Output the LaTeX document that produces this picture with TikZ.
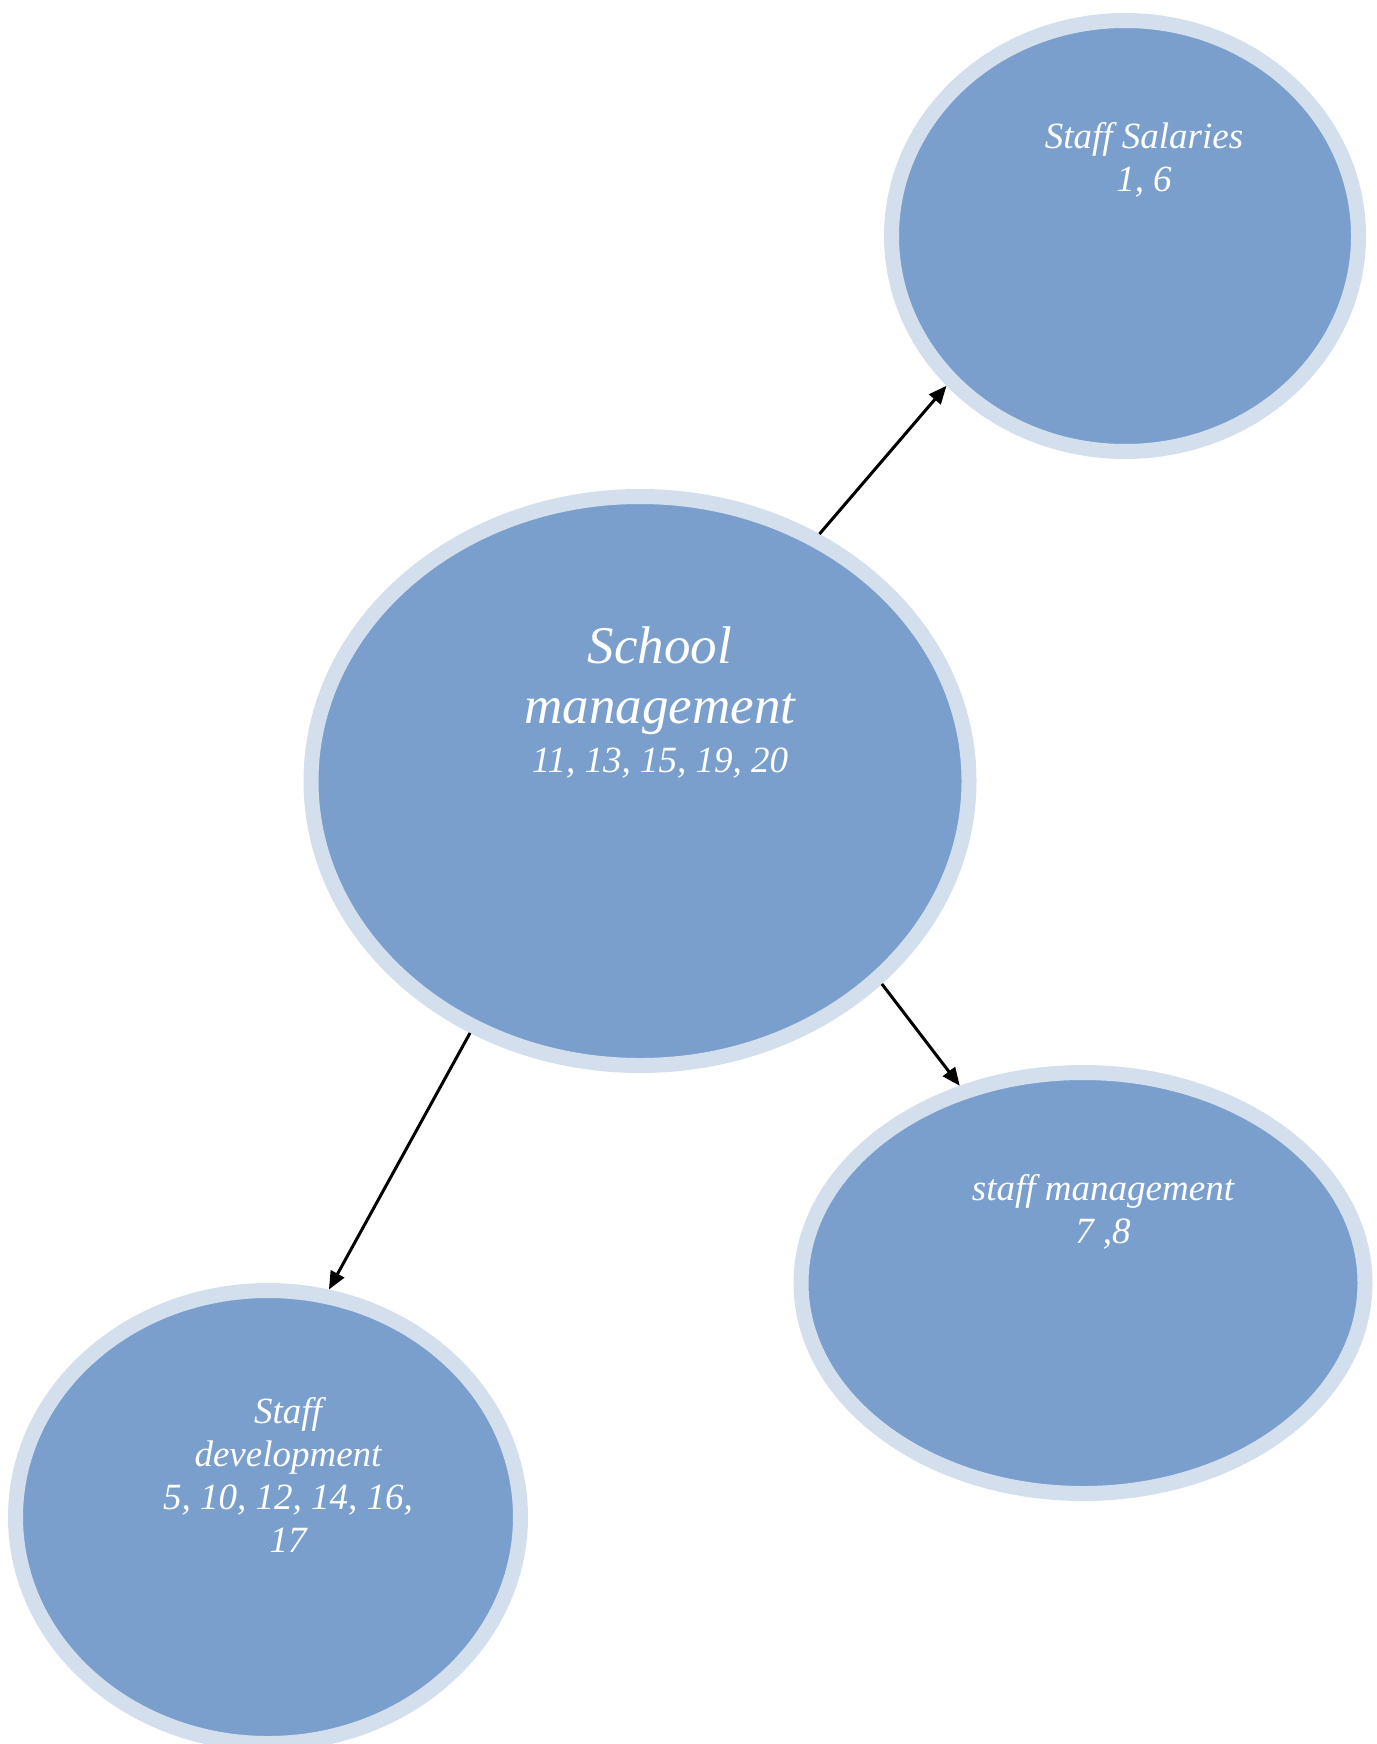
\documentclass[tikz,border=0pt]{standalone}
\usepackage{fontspec}
\setmainfont{Liberation Serif}
\usetikzlibrary{shapes.geometric,arrows.meta,positioning}

\definecolor{bubblefill}{RGB}{123,159,204}
\definecolor{bubblering}{RGB}{212,223,238}

\begin{document}
\begin{tikzpicture}[
    x=1pt, y=-1pt,
    bubble/.style={ellipse, draw=bubblering, fill=bubblefill, line width=15pt},
    caption/.style={text=white, font=\itshape\fontsize{37}{43}\selectfont, align=center, anchor=base, inner sep=0pt},
    link/.style={-{Triangle[length=18pt,width=15pt]}, line width=3pt, black}
]
\useasboundingbox (0,0) rectangle (1376,1744);

\node [bubble, minimum width=658pt, minimum height=569pt] (school) at (640,781) {};
\node [bubble, minimum width=467pt, minimum height=431pt] (salaries) at (1125,236) {};
\node [bubble, minimum width=564pt, minimum height=421pt] (staffmgmt) at (1083,1283) {};
\node [bubble, minimum width=505pt, minimum height=453pt] (staffdev) at (268,1517) {};

% base anchor sits on the last line
\node [caption, font=\itshape\fontsize{53}{60}\selectfont] (school-label) at (660,723) {School\\management};
\node [caption] (school-items) at (660,772) {11, 13, 15, 19, 20};
\node [caption] (salaries-label) at (1144,192) {Staff Salaries\\1, 6};
\node [caption] (staffmgmt-label) at (1103,1243) {staff management\\7 ,8};
\node [caption] (staffdev-label) at (288,1552) {Staff\\development\\5, 10, 12, 14, 16,\\17};

\draw [link] (school.54) -- (salaries.220);
\draw [link] (school.-40) -- (staffmgmt.122);
\draw [link] (school.236) -- (staffdev.75);

\end{tikzpicture}
\end{document}
